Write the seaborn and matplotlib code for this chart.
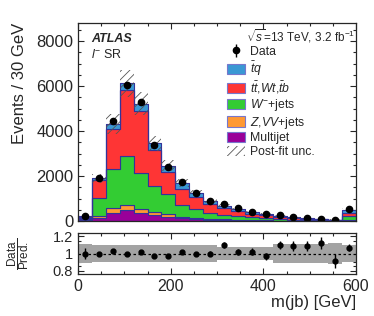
import numpy as np
import pandas as pd
import matplotlib
matplotlib.use("Agg")
import matplotlib.pyplot as plt
from matplotlib.patches import Patch
from matplotlib.ticker import MultipleLocator
import seaborn as sns

# m(jb) binning, 30 GeV bins, last bin holds overflow
bin_edges = np.arange(0, 630, 30)
bin_centers = bin_edges[:-1] + 15

# stacked predictions (events / bin)
tq = [25, 90, 220, 280, 330, 310, 270, 270, 195, 150, 126, 105, 74, 61, 42, 30, 25, 16, 11, 141]
top = [25, 780, 1770, 2960, 2740, 1580, 1000, 710, 530, 370, 280, 220, 160, 130, 95, 70, 58, 40, 27, 130]
wjets = [80, 800, 1750, 2150, 1600, 1160, 860, 530, 390, 270, 210, 170, 120, 100, 70, 50, 40, 27, 20, 200]
zvv = [15, 90, 230, 250, 190, 150, 130, 70, 50, 40, 30, 25, 18, 15, 10, 8, 6, 4, 3, 20]
multijet = [60, 140, 350, 480, 360, 250, 200, 120, 90, 60, 40, 30, 20, 15, 10, 8, 6, 4, 3, 20]

data = [207, 1900, 4450, 6040, 5300, 3360, 2400, 1730, 1250, 890, 755, 560, 400, 310, 250, 180, 147, 102, 58, 547]

# ratio panel
ratio = [1.0, 1.0, 1.03, 0.99, 1.015, 0.975, 0.975, 1.02, 0.995, 1.0,
         1.10, 1.02, 1.02, 0.965, 1.10, 1.085, 1.09, 1.12, 0.91, 1.07]
ratio_err = [0.06, 0.015, 0.012, 0.01, 0.01, 0.012, 0.015, 0.02, 0.025, 0.03,
             0.035, 0.035, 0.04, 0.045, 0.05, 0.06, 0.06, 0.07, 0.08, 0.045]
unc_rel = [0.115, 0.105, 0.105, 0.1, 0.096, 0.096, 0.1, 0.1, 0.1, 0.1,
           0.08, 0.08, 0.08, 0.08, 0.115, 0.115, 0.115, 0.115, 0.12, 0.1]

processes = ["tq", "top", "wjets", "zvv", "multijet"]
labels = {
    "tq": r"$\bar{t}q$",
    "top": r"$t\bar{t}$,$Wt$,$\bar{t}b$",
    "wjets": r"$W^{-}$+jets",
    "zvv": r"$Z$,$VV$+jets",
    "multijet": "Multijet",
}
colors = {
    "tq": "#3a98d4",
    "top": "#fe3535",
    "wjets": "#33cc33",
    "zvv": "#ff9933",
    "multijet": "#990099",
}

rows = []
for name, vals in zip(processes, [tq, top, wjets, zvv, multijet]):
    for x, v in zip(bin_centers, vals):
        rows.append({"mjb": float(x), "events": float(v), "process": name})
df = pd.DataFrame(rows)

sns.set_style("ticks")
plt.rcParams["font.family"] = ["Liberation Sans", "DejaVu Sans"]
plt.rcParams["mathtext.fontset"] = "custom"
plt.rcParams["mathtext.rm"] = "Liberation Sans"
plt.rcParams["mathtext.it"] = "Liberation Sans:italic"
plt.rcParams["mathtext.bf"] = "Liberation Sans:bold"
plt.rcParams["hatch.linewidth"] = 0.6
plt.rcParams["hatch.color"] = "#555555"

fig = plt.figure(figsize=(3.74, 3.16), dpi=100)
ax = fig.add_axes([0.2086, 0.3006, 0.7433, 0.6266])
rax = fig.add_axes([0.2086, 0.1329, 0.7433, 0.1297], sharex=ax)

sns.histplot(
    data=df, x="mjb", weights="events", hue="process",
    hue_order=processes, palette=colors, multiple="stack",
    bins=[float(b) for b in bin_edges], element="step", alpha=1,
    edgecolor="#333399", linewidth=0.8, legend=False, ax=ax,
)

pred = np.array(tq) + np.array(top) + np.array(wjets) + np.array(zvv) + np.array(multijet)
unc = np.array(unc_rel)
lo = np.append(pred * (1 - unc), pred[-1] * (1 - unc[-1]))
hi = np.append(pred * (1 + unc), pred[-1] * (1 + unc[-1]))
ax.fill_between(bin_edges, lo, hi, step="post", facecolor="none",
                edgecolor="#555555", hatch="////", linewidth=0)

data_h = ax.errorbar(bin_centers, data, yerr=np.sqrt(data), fmt="o", color="black",
                     markersize=4.5, elinewidth=1, capsize=0, label="Data")

ax.set_xlim(0, 600)
ax.set_ylim(0, 8800)
ax.set_xlabel("")
ax.set_ylabel("Events / 30 GeV", fontsize=12, loc="top")
ax.yaxis.set_label_coords(-0.185, 1.0)
ax.yaxis.set_major_locator(MultipleLocator(2000))
ax.yaxis.set_minor_locator(MultipleLocator(500))
ax.xaxis.set_major_locator(MultipleLocator(200))
ax.xaxis.set_minor_locator(MultipleLocator(50))
ax.tick_params(axis="x", labelbottom=False)
ax.tick_params(axis="y", labelsize=12)

for a in (ax, rax):
    a.tick_params(which="both", direction="in", top=True, right=True)
    a.tick_params(which="major", length=4.5, width=0.8)
    a.tick_params(which="minor", length=2.5, width=0.8)
    for s in a.spines.values():
        s.set_linewidth(0.9)

ax.text(0.047, 0.905, "ATLAS", transform=ax.transAxes, fontsize=9,
        fontweight="bold", fontstyle="italic")
ax.text(0.045, 0.825, r"$l^{-}$ SR", transform=ax.transAxes, fontsize=9)
ax.text(0.995, 0.905, r"$\sqrt{s}$=13 TeV, 3.2 fb$^{-1}$", transform=ax.transAxes,
        fontsize=8.5, ha="right")

handles = [data_h]
handles += [Patch(facecolor=colors[p], edgecolor="#7777cc", linewidth=0.8) for p in processes]
handles.append(Patch(facecolor="none", edgecolor="#555555", hatch="////", linewidth=0))
leg_labels = ["Data"] + [labels[p] for p in processes] + ["Post-fit unc."]
ax.legend(handles, leg_labels, loc="upper left", bbox_to_anchor=(0.535, 0.885),
          frameon=False, fontsize=8.8, handlelength=1.5, handleheight=0.9,
          handletextpad=0.4, labelspacing=0.12, borderaxespad=0, borderpad=0)

# ratio panel
u_ext = np.append(unc, unc[-1])
rax.fill_between(bin_edges, 1 - u_ext, 1 + u_ext, step="post",
                 color="#a3a3a3", linewidth=0)
rax.axhline(1, color="black", linestyle=(0, (2, 2)), linewidth=0.9)
rax.errorbar(bin_centers, ratio, yerr=ratio_err, fmt="o", color="black",
             markersize=3.5, elinewidth=1, capsize=0)
rax.set_ylim(0.76, 1.24)
rax.set_yticks([0.8, 1.0, 1.2])
rax.set_yticklabels(["0.8", "1", "1.2"])
rax.yaxis.set_minor_locator(MultipleLocator(0.05))
rax.tick_params(axis="y", labelsize=10.5)
rax.tick_params(axis="x", labelsize=11.5)
rax.set_ylabel(r"$\dfrac{\mathrm{Data}}{\mathrm{Pred.}}$", fontsize=8.5)
rax.yaxis.set_label_coords(-0.17, 0.5)
rax.set_xlabel("m(jb) [GeV]", fontsize=12, loc="right")
rax.xaxis.set_label_coords(1.0, -0.52)

fig.savefig("out.png", dpi=100)
